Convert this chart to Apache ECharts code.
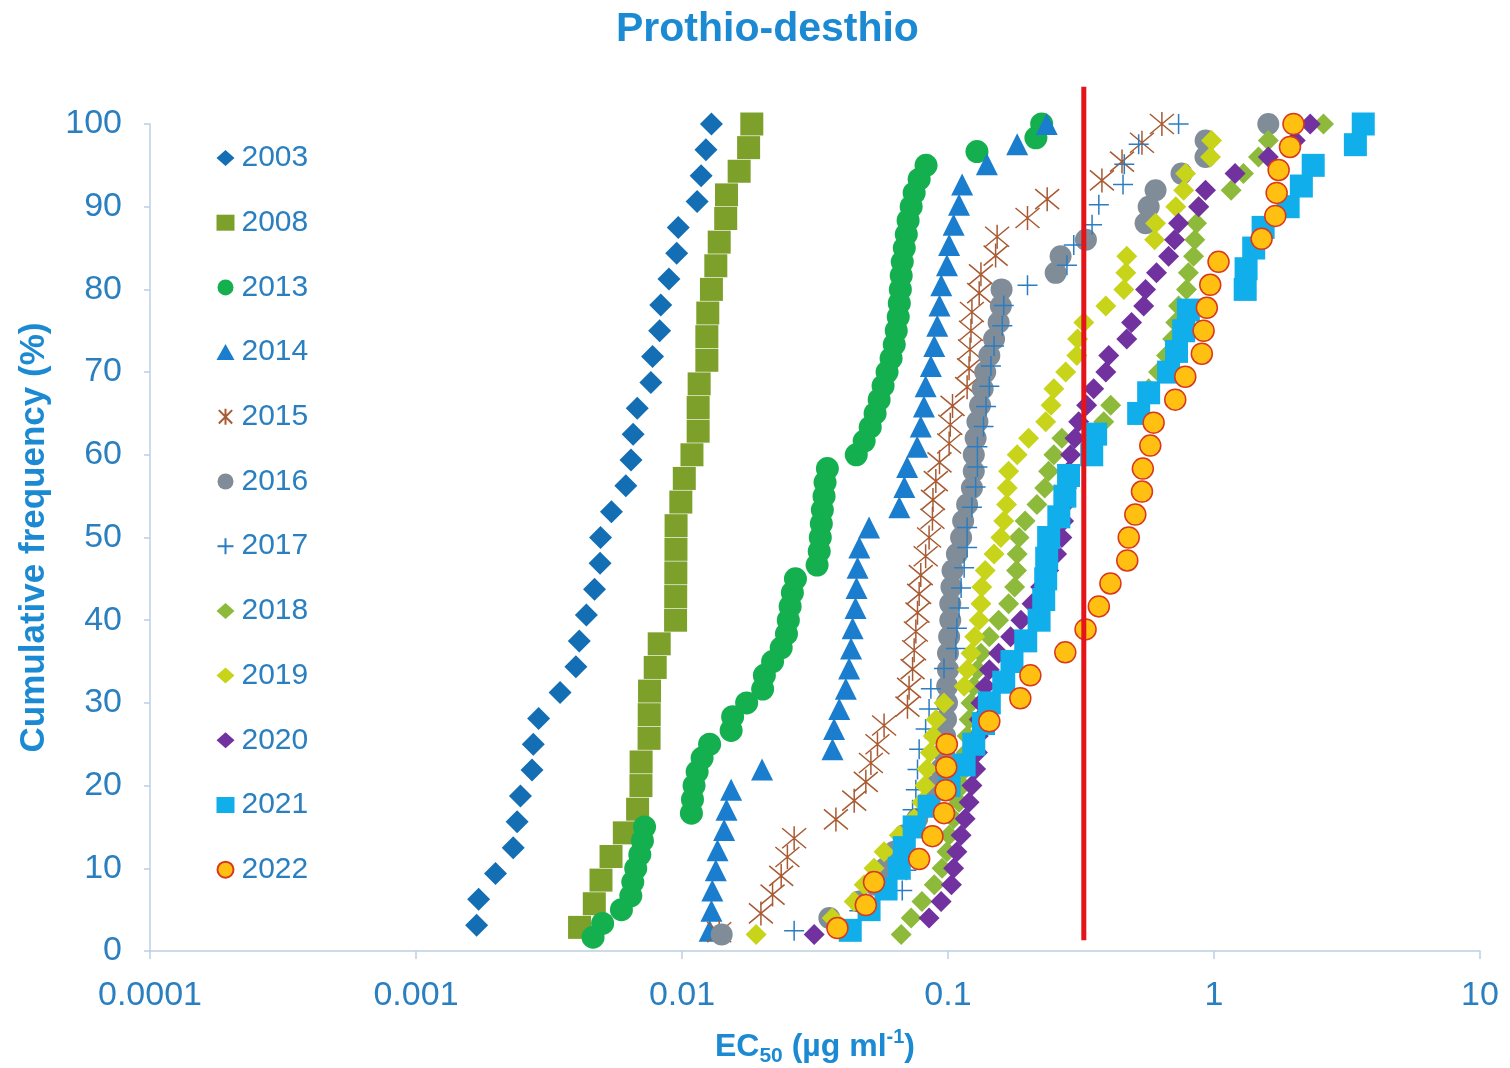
<!DOCTYPE html>
<html>
<head>
<meta charset="utf-8">
<title>Prothio-desthio</title>
<script src="https://cdn.jsdelivr.net/npm/echarts@6/dist/echarts.min.js"></script>
<style>
  html, body { margin: 0; padding: 0; background: #fff; overflow: hidden; }
  #chart { width: 1510px; height: 1068px; }
</style>
</head>
<body>
<div id="chart"></div>
<script>
// EC50 values (ug/ml) per year, sorted
var ec2003 = [0.00169, 0.00172, 0.00199, 0.00232, 0.0024, 0.00247, 0.00273, 0.00276, 0.00289, 0.00348, 0.00399, 0.00411, 0.00437, 0.00469, 0.00492, 0.00494, 0.00543, 0.00615, 0.00643, 0.00655, 0.00679, 0.00764, 0.00775, 0.00824, 0.00832, 0.00893, 0.00955, 0.00968, 0.0114, 0.0118, 0.0123, 0.0129];
var ec2008 = [0.00412, 0.00468, 0.00496, 0.00541, 0.00607, 0.00681, 0.00701, 0.00702, 0.00752, 0.00753, 0.00755, 0.00793, 0.00821, 0.00946, 0.00947, 0.00948, 0.00949, 0.0095, 0.0099, 0.0102, 0.0109, 0.0115, 0.0115, 0.0116, 0.0124, 0.0124, 0.0125, 0.0129, 0.0134, 0.0138, 0.0146, 0.0147, 0.0164, 0.0178, 0.0183];
var ec2013 = [0.00463, 0.00503, 0.00592, 0.00642, 0.00653, 0.0067, 0.00694, 0.0071, 0.00723, 0.01085, 0.01095, 0.0111, 0.0114, 0.0119, 0.0127, 0.0153, 0.0155, 0.0175, 0.0201, 0.0204, 0.0219, 0.0236, 0.0247, 0.0251, 0.0255, 0.026, 0.0267, 0.0322, 0.0328, 0.0331, 0.0334, 0.0337, 0.0342, 0.0345, 0.0352, 0.0452, 0.0484, 0.051, 0.0532, 0.0551, 0.057, 0.059, 0.0611, 0.0628, 0.0639, 0.065, 0.0656, 0.0662, 0.0667, 0.0673, 0.0685, 0.0697, 0.0708, 0.0727, 0.0746, 0.0779, 0.0827, 0.1285, 0.214, 0.225];
var ec2014 = [0.0127, 0.0129, 0.013, 0.0134, 0.0136, 0.0144, 0.0147, 0.0153, 0.02, 0.0368, 0.0373, 0.039, 0.0413, 0.0425, 0.0432, 0.0438, 0.0449, 0.0453, 0.0457, 0.0464, 0.0505, 0.0656, 0.0685, 0.0702, 0.0766, 0.079, 0.0812, 0.0824, 0.0862, 0.0888, 0.0911, 0.0929, 0.0943, 0.0991, 0.101, 0.105, 0.11, 0.113, 0.14, 0.182, 0.235];
var ec2015 = [0.0138, 0.0198, 0.0219, 0.0236, 0.0249, 0.0264, 0.0379, 0.0444, 0.0491, 0.0513, 0.0543, 0.0575, 0.0704, 0.0714, 0.0736, 0.0746, 0.0757, 0.0768, 0.0779, 0.079, 0.0824, 0.0849, 0.0874, 0.0878, 0.09, 0.0929, 0.101, 0.102, 0.104, 0.118, 0.12, 0.121, 0.122, 0.123, 0.131, 0.133, 0.151, 0.153, 0.199, 0.236, 0.379, 0.451, 0.536, 0.637];
var ec2016 = [0.0141, 0.0358, 0.0464, 0.0532, 0.058, 0.0628, 0.0685, 0.0766, 0.0849, 0.0902, 0.0942, 0.0966, 0.0975, 0.0983, 0.0991, 0.0993, 0.1, 0.1, 0.101, 0.102, 0.102, 0.103, 0.104, 0.108, 0.112, 0.114, 0.118, 0.123, 0.125, 0.125, 0.127, 0.129, 0.132, 0.135, 0.138, 0.143, 0.149, 0.155, 0.158, 0.159, 0.254, 0.265, 0.33, 0.553, 0.568, 0.603, 0.755, 0.929, 0.93, 1.6];
var ec2017 = [0.0264, 0.0464, 0.0673, 0.0697, 0.0714, 0.0727, 0.0736, 0.0757, 0.0768, 0.0779, 0.0824, 0.0849, 0.0862, 0.0966, 0.107, 0.108, 0.11, 0.112, 0.115, 0.118, 0.118, 0.123, 0.127, 0.129, 0.129, 0.136, 0.139, 0.143, 0.145, 0.149, 0.16, 0.162, 0.199, 0.28, 0.297, 0.348, 0.369, 0.455, 0.46, 0.521, 0.736];
var ec2018 = [0.0667, 0.0727, 0.0798, 0.0888, 0.095, 0.0991, 0.101, 0.105, 0.11, 0.113, 0.116, 0.117, 0.118, 0.12, 0.122, 0.125, 0.129, 0.133, 0.143, 0.155, 0.169, 0.178, 0.181, 0.182, 0.185, 0.195, 0.216, 0.231, 0.239, 0.25, 0.268, 0.385, 0.409, 0.568, 0.619, 0.663, 0.699, 0.718, 0.736, 0.788, 0.801, 0.838, 0.847, 0.86, 0.876, 1.16, 1.29, 1.47, 1.6, 2.58];
var ec2019 = [0.019, 0.0367, 0.0444, 0.0484, 0.0527, 0.0575, 0.0656, 0.0746, 0.0798, 0.0819, 0.0834, 0.0857, 0.088, 0.0902, 0.0966, 0.115, 0.118, 0.122, 0.126, 0.131, 0.133, 0.134, 0.138, 0.149, 0.158, 0.162, 0.166, 0.167, 0.169, 0.182, 0.201, 0.233, 0.244, 0.25, 0.277, 0.305, 0.307, 0.324, 0.392, 0.458, 0.466, 0.47, 0.598, 0.603, 0.718, 0.769, 0.782, 0.97, 0.979, 1.99];
var ec2020 = [0.0314, 0.0849, 0.0942, 0.103, 0.105, 0.108, 0.112, 0.116, 0.12, 0.123, 0.127, 0.129, 0.13, 0.131, 0.133, 0.138, 0.143, 0.155, 0.172, 0.188, 0.207, 0.223, 0.239, 0.256, 0.268, 0.272, 0.275, 0.279, 0.284, 0.289, 0.3, 0.31, 0.332, 0.353, 0.392, 0.402, 0.47, 0.49, 0.544, 0.553, 0.608, 0.675, 0.711, 0.736, 0.876, 0.929, 1.2, 1.6, 2.02, 2.3];
var ec2021 = [0.0429, 0.0505, 0.0585, 0.0656, 0.0685, 0.0746, 0.0849, 0.101, 0.115, 0.125, 0.136, 0.143, 0.162, 0.174, 0.196, 0.22, 0.229, 0.233, 0.235, 0.239, 0.261, 0.275, 0.284, 0.347, 0.359, 0.521, 0.568, 0.675, 0.723, 0.769, 0.801, 1.31, 1.32, 1.41, 1.53, 1.9, 2.13, 2.36, 3.4, 3.64];
var ec2022 = [0.0384, 0.0491, 0.0527, 0.0779, 0.0874, 0.0966, 0.098, 0.0985, 0.099, 0.143, 0.187, 0.204, 0.276, 0.329, 0.369, 0.408, 0.472, 0.478, 0.506, 0.536, 0.54, 0.576, 0.593, 0.715, 0.78, 0.9, 0.914, 0.94, 0.968, 1.04, 1.51, 1.7, 1.72, 1.75, 1.93, 1.99];

var years = ['2003', '2008', '2013', '2014', '2015', '2016', '2017', '2018', '2019', '2020', '2021', '2022'];
var ecByYear = [ec2003, ec2008, ec2013, ec2014, ec2015, ec2016, ec2017, ec2018, ec2019, ec2020, ec2021, ec2022];
var xTickLabels = ['0.0001', '0.001', '0.01', '0.1', '1', '10'];
var redLineDose = 0.324;
var redLineSpan = [1.3, 104.5];

// marker look for each year
var asterisk = 'path://M0,1L10,11M10,1L0,11M5,0L5,12';
var plus = 'path://M0,5L10,5M5,0L5,10';
var markerStyle = {
    '2003': { symbol: 'diamond', size: 23, fill: '#146EB4' },
    '2008': { symbol: 'rect', size: 23, fill: '#7DA02A' },
    '2013': { symbol: 'circle', size: 23, fill: '#14B04F' },
    '2014': { symbol: 'triangle', size: 22, fill: '#1A7DCD' },
    '2015': { symbol: asterisk, size: 24, fill: 'none', line: '#A85A32', lineWidth: 1.5 },
    '2016': { symbol: 'circle', size: 22, fill: '#808D98' },
    '2017': { symbol: plus, size: 20, fill: 'none', line: '#2A7DC1', lineWidth: 1.5 },
    '2018': { symbol: 'diamond', size: 21, fill: '#8DBA3A' },
    '2019': { symbol: 'diamond', size: 21, fill: '#C8D41A' },
    '2020': { symbol: 'diamond', size: 21, fill: '#7132A0' },
    '2021': { symbol: 'rect', size: 23, fill: '#10AEEA' },
    '2022': { symbol: 'circle', size: 21, fill: '#FFC011', line: '#D9381E', lineWidth: 1.5 }
};

var blueText = '#2A7FC0';
var titleBlue = '#1C8AD3';
var axisGrey = '#BCCFE3';
var font = 'Liberation Sans';

// cumulative frequency (%) from sorted values
function cumulative(values) {
    var n = values.length;
    return values.map(function(v, i) {
        return [v, (i + 1) / n * 100];
    });
}

var series = years.map(function(year, i) {
    var m = markerStyle[year];
    return {
        name: year,
        type: 'scatter',
        data: cumulative(ecByYear[i]),
        symbol: m.symbol,
        symbolSize: m.size,
        itemStyle: {
            color: m.fill,
            borderColor: m.line || m.fill,
            borderWidth: m.lineWidth || 0,
            opacity: 1
        },
        emphasis: { disabled: true },
        z: 2 + i
    };
});

// red reference line
series.push({
    name: 'limit',
    type: 'line',
    data: [[redLineDose, redLineSpan[0]], [redLineDose, redLineSpan[1]]],
    symbol: 'none',
    clip: false,
    silent: true,
    lineStyle: { color: '#E3151A', width: 5 },
    z: 30
});

var chart = echarts.init(document.getElementById('chart'));
var option = {
    backgroundColor: '#fff',
    animation: false,
    textStyle: { fontFamily: font },
    title: {
        text: 'Prothio-desthio',
        left: 611,
        top: 4,
        textStyle: { fontSize: 41, fontWeight: 'bold', color: titleBlue, fontFamily: font }
    },
    legend: {
        data: years,
        orient: 'vertical',
        left: 210,
        top: 138,
        itemWidth: 18,
        itemHeight: 16,
        itemGap: 34.7,
        textStyle: { fontSize: 30, lineHeight: 30, color: blueText, fontFamily: font, padding: [0, 0, 0, 2] }
    },
    grid: { left: 150, right: 30, top: 124, bottom: 117, outerBoundsMode: 'none', containLabel: false },
    xAxis: {
        type: 'log',
        logBase: 10,
        min: 0.0001,
        max: 10,
        name: '{b|EC}{s|50}{b| (µg ml}{p|-1}{b|)}',
        nameLocation: 'middle',
        nameGap: 76,
        nameTextStyle: {
            rich: {
                b: { fontSize: 32, fontWeight: 'bold', color: titleBlue, fontFamily: font, lineHeight: 40 },
                s: { fontSize: 21, fontWeight: 'bold', color: titleBlue, fontFamily: font, lineHeight: 40, verticalAlign: 'bottom' },
                p: { fontSize: 20, fontWeight: 'bold', color: titleBlue, fontFamily: font, lineHeight: 40, verticalAlign: 'top' }
            }
        },
        axisLine: { show: true, lineStyle: { color: axisGrey, width: 1.5 } },
        axisTick: { show: true, length: 8, lineStyle: { color: axisGrey, width: 1.5 } },
        minorTick: { show: false },
        splitLine: { show: false },
        axisLabel: {
            fontSize: 34,
            color: blueText,
            margin: 28,
            formatter: function(v) {
                return xTickLabels[Math.round(Math.log10(v)) + 4];
            }
        }
    },
    yAxis: {
        type: 'value',
        min: 0,
        max: 100,
        interval: 10,
        name: 'Cumulative frequency (%)',
        nameLocation: 'middle',
        nameGap: 98,
        nameTextStyle: { fontSize: 35, fontWeight: 'bold', color: titleBlue, fontFamily: font },
        axisLine: { show: true, lineStyle: { color: axisGrey, width: 1.5 } },
        axisTick: { show: true, length: 6, lineStyle: { color: axisGrey, width: 1.5 } },
        splitLine: { show: false },
        axisLabel: { fontSize: 34, color: blueText, margin: 28 }
    },
    series: series
};
option && chart.setOption(option);
</script>
</body>
</html>
